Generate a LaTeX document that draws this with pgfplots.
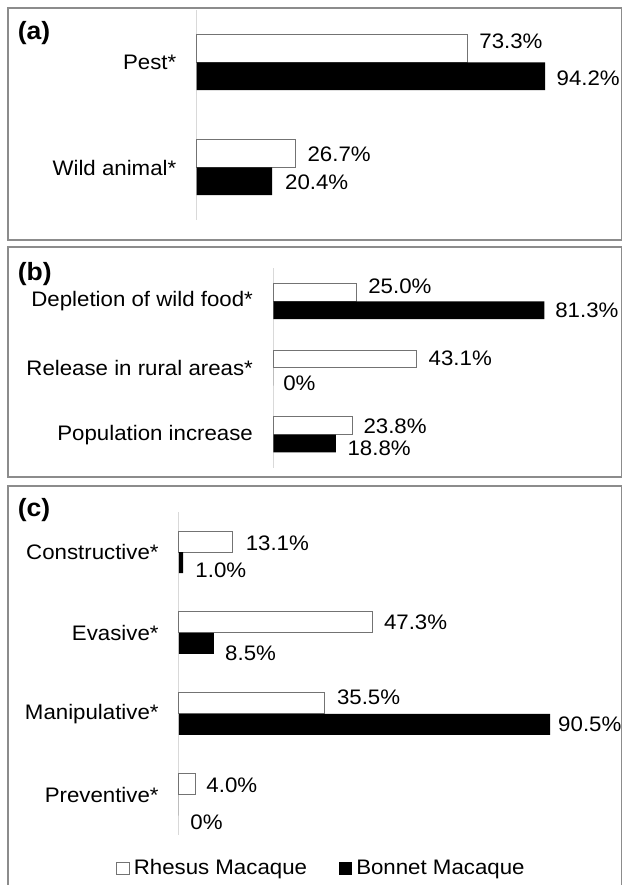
\documentclass[border=0pt]{standalone}
\usepackage{fontspec}
\setmainfont{Liberation Sans}[FakeStretch=1.06]
\usepackage{pgfplots}
\usepackage{pgfplotstable}
\pgfplotsset{compat=1.18}

% label: \lbl{x gap pt}{y offset pt}{text}
\protected\def\lbl#1#2#3{\hspace*{#1pt}\raisebox{\dimexpr#2pt-3.76pt\relax}[0pt][0pt]{#3\%}}

% panel (a)
\pgfplotstableread{
y x lab
1 73.3 \lbl{5.5}{4}{73.3}
0 26.7 \lbl{5.8}{0}{26.7}
}\aW
\pgfplotstableread{
y x lab
1 94.2 \lbl{5.5}{-0.75}{94.2}
0 20.4 \lbl{6.3}{-0.5}{20.4}
}\aB
% panel (b)
\pgfplotstableread{
y x lab
2 25.0 \lbl{5.6}{3}{25.0}
1 43.1 \lbl{5.6}{0.5}{43.1}
0 23.8 \lbl{5.2}{0}{23.8}
}\bW
\pgfplotstableread{
y x lab
2 81.3 \lbl{5.3}{0}{81.3}
1 0 \lbl{4.8}{-3.2}{0}
0 18.8 \lbl{5.6}{-2.2}{18.8}
}\bB
% panel (c)
\pgfplotstableread{
y x lab
3 13.1 \lbl{6.3}{-0.6}{13.1}
2 47.3 \lbl{5.3}{0}{47.3}
1 35.5 \lbl{6.0}{3.2}{35.5}
0 4.0 \lbl{5.3}{-0.6}{4.0}
}\cW
\pgfplotstableread{
y x lab
3 1.0 \lbl{6.0}{-3.75}{1.0}
2 8.5 \lbl{5.5}{-4.8}{8.5}
1 90.5 \lbl{3.9}{0}{90.5}
0 0 \lbl{5.5}{-8.3}{0}
}\cB

\newcommand{\lblfont}{\fontsize{10.5}{12.5}\selectfont}

\pgfplotsset{
  panel/.style={
    xbar, xmin=0, xmax=100, clip=false,
    scale only axis, anchor=south west,
    axis x line=none, axis y line*=left,
    y axis line style={draw=black!15, line width=0.5pt},
    ytick style={draw=none}, major tick length=0pt,
    yticklabel style={inner sep=0pt, xshift=-10pt, anchor=east, font=\lblfont, text=black},
    point meta=explicit symbolic,
    nodes near coords={\pgfplotspointmeta},
    every node near coord/.append style={anchor=west, inner sep=0pt, font=\lblfont, text=black},
  },
  wbar/.style={fill=white, draw=black!55, line width=0.5pt},
  bbar/.style={fill=black, draw=none},
  sqlegend/.style={legend image code/.code={\draw[##1] (0pt,-3.1pt) rectangle (6.2pt,3.1pt);}},
}

\begin{document}
\begin{tikzpicture}
\useasboundingbox (0,0) rectangle (311pt,442.5pt);
\clip (0,0) rectangle (311pt,442.5pt);

% panel frames
\draw[black!45, line width=0.9pt] (3.9pt,322.5pt) rectangle (310.75pt,438.35pt);
\draw[black!45, line width=0.9pt] (3.9pt,204pt) rectangle (310.75pt,319.15pt);
\draw[black!45, line width=0.9pt] (3.9pt,-5pt) rectangle (310.75pt,199.5pt);

% (a)
\begin{axis}[panel, at={(98.35pt,332.5pt)}, width=185pt, height=105pt,
  ymin=-0.5, ymax=1.5, ytick={0,1}, yticklabels={Wild animal*, Pest*},
  bar width=13.85pt]
\addplot[wbar, bar shift=6.9pt] table[x=x, y=y, meta=lab]{\aW};
\addplot[bbar, bar shift=-6.9pt] table[x=x, y=y, meta=lab]{\aB};
\end{axis}

% (b)
\begin{axis}[panel, at={(136.65pt,208.5pt)}, width=166.7pt, height=100pt,
  ymin=-0.5, ymax=2.5, ytick={0,1,2},
  yticklabels={Population increase, Release in rural areas*, Depletion of wild food*},
  bar width=8.85pt]
\addplot[wbar, bar shift=4.43pt] table[x=x, y=y, meta=lab]{\bW};
\addplot[bbar, bar shift=-4.43pt] table[x=x, y=y, meta=lab]{\bB};
\end{axis}

% (c)
\begin{axis}[panel, at={(89.5pt,25pt)}, width=205pt, height=161.65pt,
  ymin=-0.5, ymax=3.5, ytick={0,1,2,3},
  yticklabels={Preventive*, Manipulative*, Evasive*, Constructive*},
  bar width=10.5pt,
  legend style={at={(0.350,-0.103)}, anchor=center, draw=none, fill=none,
    legend columns=2, font=\lblfont,
    /tikz/every even column/.append style={column sep=14pt}}]
\addplot[wbar, sqlegend, bar shift=5.25pt] table[x=x, y=y, meta=lab]{\cW};
\addplot[bbar, sqlegend, bar shift=-5.25pt] table[x=x, y=y, meta=lab]{\cB};
\legend{Rhesus Macaque, Bonnet Macaque}
\end{axis}

% panel letters
\node[anchor=west, inner sep=0pt, font=\bfseries\fontsize{12.5}{14}\selectfont] at (8.7pt,426pt) {(a)};
\node[anchor=west, inner sep=0pt, font=\bfseries\fontsize{12.5}{14}\selectfont] at (8.7pt,305.5pt) {(b)};
\node[anchor=west, inner sep=0pt, font=\bfseries\fontsize{12.5}{14}\selectfont] at (8.7pt,187.25pt) {(c)};
\end{tikzpicture}
\end{document}
